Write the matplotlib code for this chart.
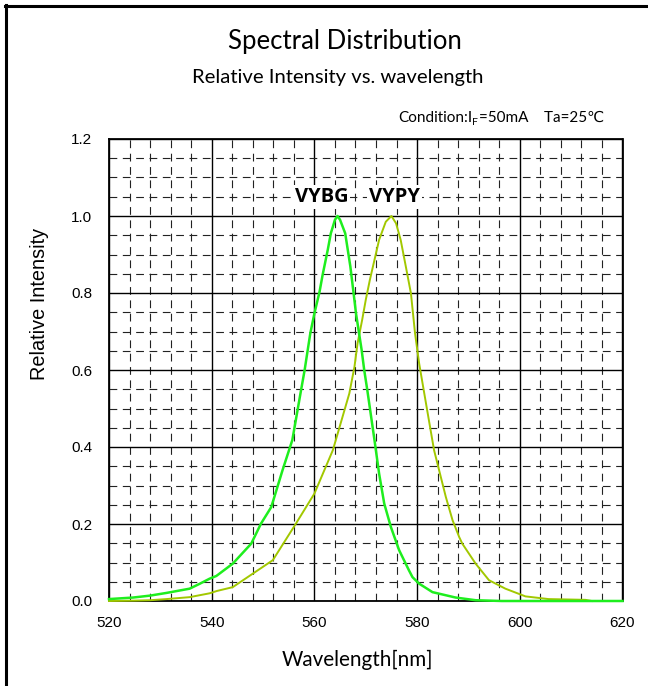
import matplotlib
matplotlib.use("Agg")
import matplotlib.pyplot as plt
from matplotlib.ticker import MultipleLocator
from matplotlib.lines import Line2D

# ---- data ----
vybg_wl = [520, 524.7, 528, 531.2, 535.7, 537.7, 539.6, 540.9, 544.1, 547.7, 549.6,
           551.6, 553.8, 555.7, 557.3, 558.1, 558.7, 559.2, 560.0, 561.0, 561.6,
           562.6, 563.2, 564.0, 564.5, 565.0, 566.0, 567.0, 567.6, 568.1, 569.2,
           569.7, 570.3, 571.7, 572.6, 573.6, 574.9, 576.5, 578.4, 579.1, 580.4,
           583.0, 587.5, 591.4, 596.5, 600, 610, 620]
vybg_i = [0.005, 0.009, 0.014, 0.021, 0.032, 0.045, 0.058, 0.065, 0.097, 0.149, 0.201,
          0.244, 0.340, 0.418, 0.540, 0.600, 0.652, 0.695, 0.747, 0.803, 0.847,
          0.912, 0.955, 0.990, 1.000, 0.990, 0.955, 0.869, 0.803, 0.747, 0.652,
          0.600, 0.548, 0.418, 0.331, 0.253, 0.192, 0.132, 0.080, 0.062, 0.045,
          0.023, 0.009, 0.002, 0.0, 0.0, 0.0, 0.0]

vypy_wl = [520, 525, 528, 531.2, 535.7, 539.6, 541, 544.1, 548.0, 551.9, 556.4, 560.0,
           563.6, 566.8, 567.8, 568.4, 569.3, 570.0, 570.8, 571.7, 572.6, 573.9, 575.0,
           575.9, 576.8, 577.8, 578.8, 579.6, 580.4, 581.4, 583.3, 585.6, 586.9, 588.2,
           588.8, 591.4, 594.0, 597.2, 601.1, 605.6, 612.8, 614]
vypy_i = [0.0, 0.001, 0.002, 0.005, 0.010, 0.020, 0.026, 0.036, 0.071, 0.106, 0.201, 0.279,
          0.392, 0.539, 0.608, 0.669, 0.730, 0.782, 0.834, 0.886, 0.938, 0.985, 1.000,
          0.981, 0.938, 0.869, 0.799, 0.695, 0.617, 0.539, 0.392, 0.270, 0.210, 0.166,
          0.149, 0.097, 0.054, 0.032, 0.012, 0.005, 0.003, 0.0]

x_ticks = [520, 540, 560, 580, 600, 620]
y_ticks = [0.0, 0.2, 0.4, 0.6, 0.8, 1.0, 1.2]
labels = ["VYBG", "VYPY"]
label_pos = [(561.4, 1.05), (575.6, 1.05)]

TITLE_FONT = ["Lato", "DejaVu Sans"]
TICK_FONT = ["Liberation Sans", "DejaVu Sans"]

W, H = 648, 686
fig = plt.figure(figsize=(W / 100, H / 100), dpi=100)
ax = fig.add_axes([109 / W, 1 - 601 / H, (622.5 - 109) / W, (601 - 139) / H])

ax.set_xlim(520, 620)
ax.set_ylim(0, 1.2)
ax.set_xticks(x_ticks)
ax.set_yticks(y_ticks)
ax.set_xticklabels([str(v) for v in x_ticks])
ax.set_yticklabels([f"{v:.1f}" for v in y_ticks])
ax.xaxis.set_minor_locator(MultipleLocator(4))
ax.yaxis.set_minor_locator(MultipleLocator(0.05))
ax.tick_params(which="both", length=0)
ax.tick_params(axis="y", pad=12)
ax.tick_params(axis="x", pad=11)
for lab in ax.get_xticklabels() + ax.get_yticklabels():
    lab.set_fontfamily(TICK_FONT)
    lab.set_fontsize(11)

ax.grid(which="minor", color="#222222", lw=0.8, ls=(0, (7, 5)), zorder=0)
ax.grid(which="major", color="black", lw=1.0, ls="-", zorder=0)
ax.set_axisbelow(True)
for s in ax.spines.values():
    s.set_linewidth(1.3)
    s.set_color("black")

ax.plot(vypy_wl, vypy_i, color="#A2C800", lw=1.4, zorder=3, clip_on=False)
ax.plot(vybg_wl, vybg_i, color="#1EEE1E", lw=1.8, zorder=4, clip_on=False)

for t, (xx, yy) in zip(labels, label_pos):
    ax.text(xx, yy, t, ha="center", va="center", fontsize=14.5, fontweight="bold",
            family=["Open Sans", "DejaVu Sans"], zorder=5,
            bbox=dict(facecolor="white", edgecolor="none", pad=1.5))

fig.text(40 / W, 1 - 304 / H, "Relative Intensity", rotation=90, ha="center", va="center",
         fontsize=14.3, family=TICK_FONT)
fig.text(357 / W, 1 - 660 / H, "Wavelength[nm]", ha="center", va="center",
         fontsize=14.9, family=TITLE_FONT)

fig.text(344.5 / W, 1 - 42 / H, "Spectral Distribution", ha="center", va="center",
         fontsize=18.5, family=TITLE_FONT)
fig.text(337.5 / W, 1 - 77 / H, "Relative Intensity vs. wavelength", ha="center",
         va="center", fontsize=14.6, family=TITLE_FONT)

# condition line: "Condition:I" + subscript "F" + "=50mA    Ta=25℃"
base_y = 1 - 122 / H
c1 = fig.text(398 / W, base_y, "Condition:I", ha="left", va="baseline", fontsize=11,
              family=TITLE_FONT)
fig.canvas.draw()
b1 = c1.get_window_extent()
c2 = fig.text((b1.x1 + 0.3) / W, base_y - 3 / H, "F", ha="left", va="baseline",
              fontsize=7.5, family=TITLE_FONT)
fig.canvas.draw()
b2 = c2.get_window_extent()
fig.text((b2.x1 + 0.3) / W, base_y, "=50mA    Ta=25℃", ha="left", va="baseline",
         fontsize=11, family=TITLE_FONT)

# figure border (top and left only)
fig.add_artist(Line2D([5 / W, 1], [1 - 6 / H, 1 - 6 / H], color="black", lw=2.2,
                      transform=fig.transFigure))
fig.add_artist(Line2D([6 / W, 6 / W], [0, 1 - 5 / H], color="black", lw=2.2,
                      transform=fig.transFigure))

fig.savefig("out.png", dpi=100)
